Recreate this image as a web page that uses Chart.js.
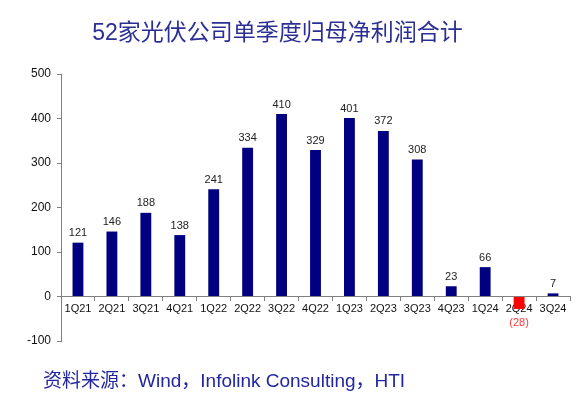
<!DOCTYPE html>
<html>
<head>
<meta charset="utf-8">
<script src="https://cdn.jsdelivr.net/npm/chart.js@4"></script>
<style>
  html, body { margin: 0; padding: 0; background: #fff; }
  #wrap { position: relative; width: 579px; height: 394px; overflow: hidden; }
  #title { position: absolute; left: 0; width: 555px; top: 13px; text-align: center;
    font-family: "Liberation Sans", "Noto Sans CJK SC", sans-serif; font-size: 23px; color: #2B2F95; white-space: nowrap; }
  #source { position: absolute; left: 43px; top: 365px;
    font-family: "Liberation Sans", "Noto Sans CJK SC", sans-serif; font-size: 19px; color: #2226A0; white-space: nowrap; }
  #cv { position: absolute; left: 0; top: 0; }
</style>
</head>
<body>
<div id="wrap">
  <canvas id="cv" width="579" height="394"></canvas>
  <div id="title">52家光伏公司单季度归母净利润合计</div>
  <div id="source">资料来源：Wind，Infolink Consulting，HTI</div>
</div>
<script>
const categories = ['1Q21','2Q21','3Q21','4Q21','1Q22','2Q22','3Q22','4Q22','1Q23','2Q23','3Q23','4Q23','1Q24','2Q24','3Q24'];
const profits = [121, 146, 188, 138, 241, 334, 410, 329, 401, 372, 308, 23, 66, -28, 7];
const yTicks = [-100, 0, 100, 200, 300, 400, 500];

const POS_COLOR = '#000080';
const NEG_COLOR = '#FF0000';

const valueLabels = {
  id: 'valueLabels',
  afterDatasetsDraw(chart) {
    const ctx = chart.ctx;
    const meta = chart.getDatasetMeta(0);
    const yScale = chart.scales.y;
    ctx.save();
    ctx.font = '11px "Liberation Sans", Arial, sans-serif';
    ctx.textAlign = 'center';
    meta.data.forEach((bar, i) => {
      const v = profits[i];
      if (v >= 0) {
        ctx.fillStyle = '#222';
        ctx.textBaseline = 'bottom';
        ctx.fillText(String(v), bar.x, bar.y - 4);
      } else {
        ctx.fillStyle = '#FF3B3B';
        ctx.textBaseline = 'top';
        ctx.fillText('(' + Math.abs(v) + ')', bar.x, yScale.getPixelForValue(0) + 21);
      }
    });
    ctx.restore();
  }
};

new Chart(document.getElementById('cv'), {
  type: 'bar',
  data: {
    labels: categories,
    datasets: [{
      data: profits,
      backgroundColor: profits.map(v => v < 0 ? NEG_COLOR : POS_COLOR),
      barPercentage: 0.64,
      categoryPercentage: 0.5
    }]
  },
  options: {
    responsive: false,
    animation: false,
    devicePixelRatio: 1,
    layout: { padding: { left: 0, right: 9, top: 74, bottom: 53 } },
    plugins: { legend: { display: false }, tooltip: { enabled: false }, title: { display: false } },
    scales: {
      x: {
        position: { y: 0 },
        grid: { display: true, drawOnChartArea: false, drawTicks: true, tickLength: 4, color: '#808080', offset: true },
        border: { display: true, color: '#808080', width: 1 },
        ticks: { color: '#111', font: { family: '"Liberation Sans", Arial, sans-serif', size: 11 }, padding: 2, maxRotation: 0, autoSkip: false }
      },
      y: {
        min: -100, max: 500,
        afterBuildTicks: (s) => { s.ticks = yTicks.map(v => ({ value: v })); },
        afterFit: (s) => { s.width = 61; },
        grid: { display: true, drawOnChartArea: false, drawTicks: true, tickLength: 4, color: '#808080' },
        border: { display: true, color: '#808080', width: 1 },
        ticks: { color: '#111', font: { family: '"Liberation Sans", Arial, sans-serif', size: 12 }, padding: 6 }
      }
    }
  },
  plugins: [valueLabels]
});
</script>
</body>
</html>
